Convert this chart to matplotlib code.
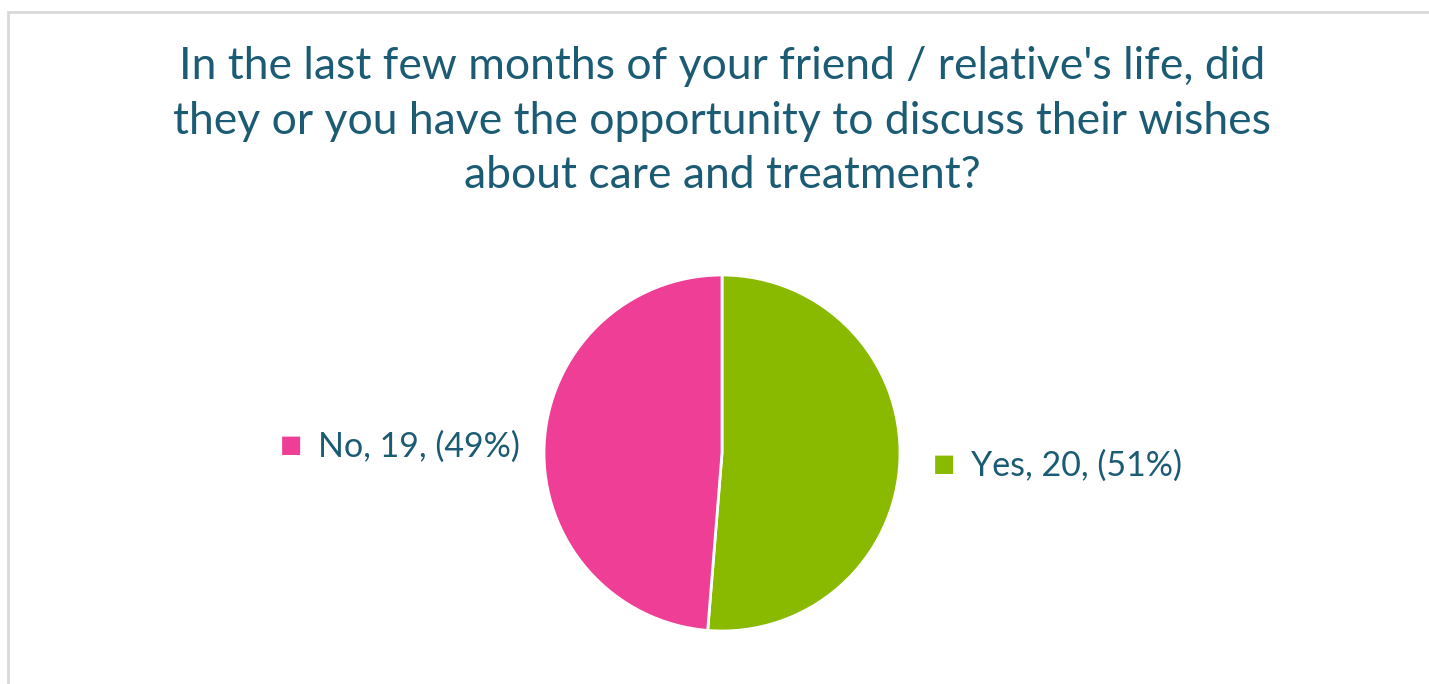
import matplotlib
matplotlib.use("Agg")
from matplotlib import pyplot as plt
from matplotlib.patches import Rectangle

plt.rcParams['font.family'] = ['Lato', 'DejaVu Sans']

title = ("In the last few months of your friend / relative's life, did\n"
         "they or you have the opportunity to discuss their wishes\n"
         "about care and treatment?")
labels = ["Yes", "No"]
counts = [20, 19]
colors = ["#8aba00", "#ee3e96"]
text_color = "#1b5b74"

W, H = 1429, 684
fig = plt.figure(figsize=(W / 100, H / 100), dpi=100)

# frame of the chart area (cut off at right and bottom)
fig.patches.append(Rectangle((8 / W, -0.1), 1.2, (H - 12) / H + 0.1,
                             transform=fig.transFigure, fill=False,
                             edgecolor="#d9d9d9", linewidth=2))

fig.text(722 / W, 1 - 121 / H, title, ha="center", va="center",
         fontsize=32, color=text_color, linespacing=1.42)

cx, cy, r = 722, 453, 178
ax = fig.add_axes([(cx - r) / W, (H - cy - r) / H, 2 * r / W, 2 * r / H])
ax.pie(counts, colors=colors, startangle=90, counterclock=False,
       wedgeprops=dict(edgecolor="white", linewidth=2))
ax.set_xlim(-1, 1)
ax.set_ylim(-1, 1)
ax.axis("off")

total = sum(counts)
pcts = [round(100 * c / total) for c in counts]
lab_pos = {"No": (291, 445), "Yes": (944, 464)}
for lab, c, p, col in zip(labels, counts, pcts, colors):
    x, y = lab_pos[lab]
    fig.text(x / W, 1 - y / H, "\u25a0", color=col, fontsize=17,
             ha="center", va="center", family="DejaVu Sans")
    fig.text((x + 27) / W, 1 - (y + 2) / H, f"{lab}, {c}, ({p}%)",
             color=text_color, fontsize=24.5, ha="left", va="center")

fig.savefig("out.png", dpi=100)
